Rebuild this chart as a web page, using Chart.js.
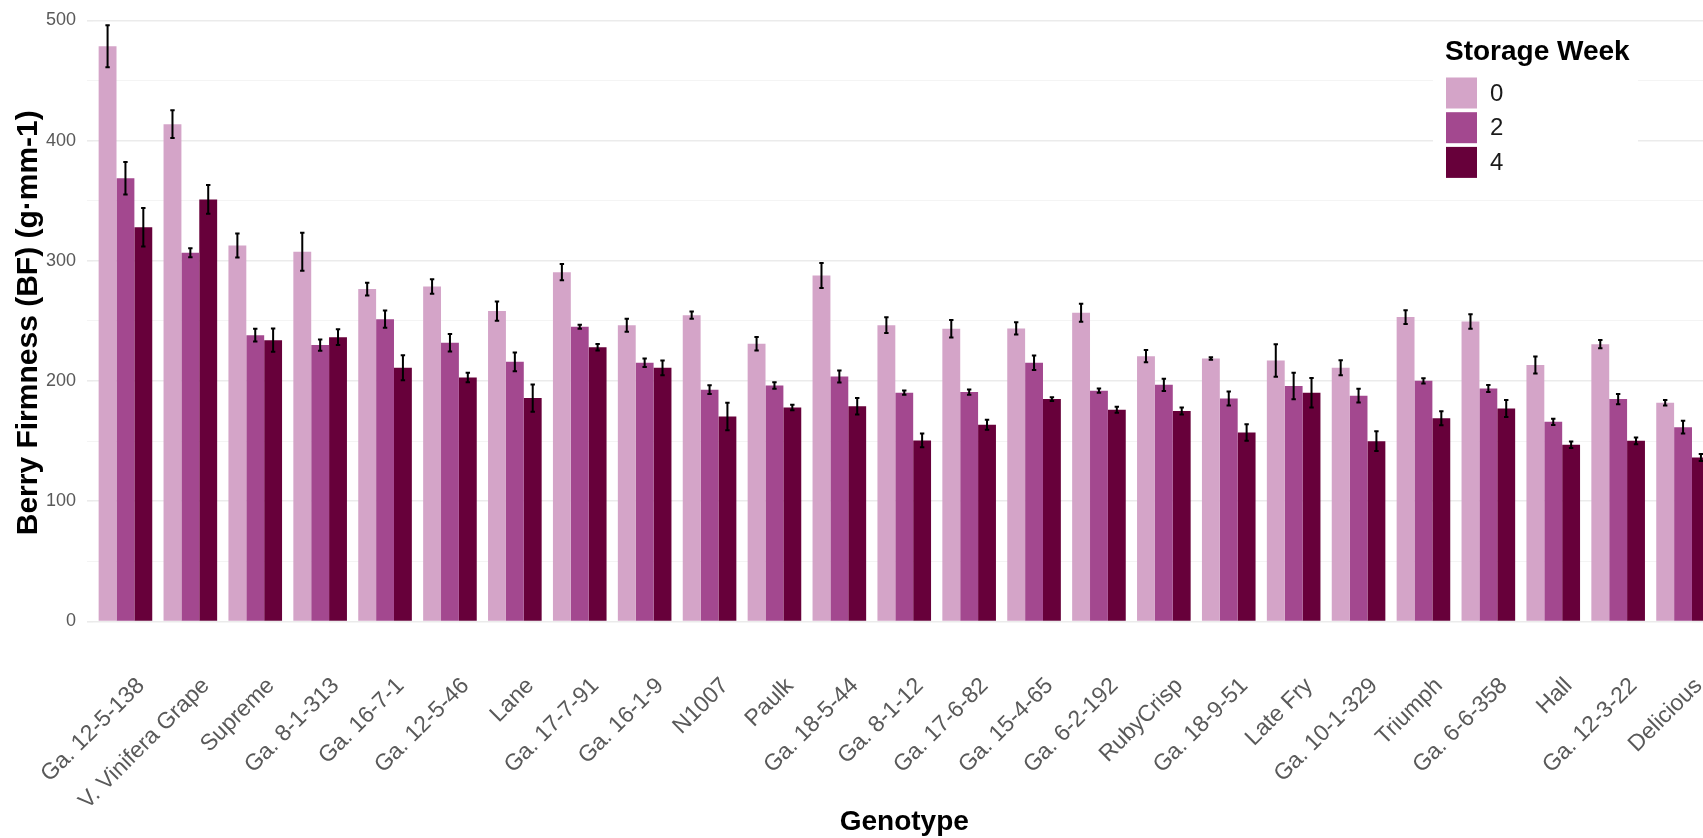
<!DOCTYPE html>
<html>
<head>
<meta charset="utf-8">
<title>Berry Firmness by Genotype and Storage Week</title>
<script src="https://cdn.jsdelivr.net/npm/chart.js@4.4.1/dist/chart.umd.min.js"></script>
<style>
  html, body { margin: 0; padding: 0; background: #ffffff; overflow: hidden; }
  #wrap { position: relative; width: 1703px; height: 838px; overflow: hidden; background: #ffffff; }
  #chart { position: absolute; left: 0; top: -30px; width: 1720px; height: 868px; }
</style>
</head>
<body>
<div id="wrap"><canvas id="chart" width="1720" height="868"></canvas></div>
<script>
// Genotypes on the x axis
const genotypes = ['Ga. 12-5-138', 'V. Vinifera Grape', 'Supreme', 'Ga. 8-1-313', 'Ga. 16-7-1',
  'Ga. 12-5-46', 'Lane', 'Ga. 17-7-91', 'Ga. 16-1-9', 'N1007', 'Paulk', 'Ga. 18-5-44',
  'Ga. 8-1-12', 'Ga. 17-6-82', 'Ga. 15-4-65', 'Ga. 6-2-192', 'RubyCrisp', 'Ga. 18-9-51',
  'Late Fry', 'Ga. 10-1-329', 'Triumph', 'Ga. 6-6-358', 'Hall', 'Ga. 12-3-22', 'Delicious'];

// Storage weeks (legend entries)
const weeks = ['0', '2', '4'];
const legendTitle = 'Storage Week';

// Mean berry firmness (g·mm-1) per storage week
const week0 = [478.6, 413.7, 312.8, 307.6, 276.5, 278.7, 258.2, 290.6, 246.5, 254.8, 231.0, 287.9,
  246.5, 243.5, 243.8, 256.8, 220.7, 218.8, 217.1, 211.0, 253.2, 249.6, 213.3, 230.7, 182.0];
const week2 = [368.8, 306.7, 238.2, 229.9, 251.5, 231.9, 216.0, 245.2, 215.2, 192.8, 196.3, 203.8,
  190.3, 190.8, 215.2, 192.0, 196.9, 185.5, 195.8, 187.8, 200.2, 193.8, 166.1, 185.0, 161.6];
const week4 = [328.0, 351.1, 234.0, 236.5, 211.0, 203.0, 185.8, 228.2, 211.0, 170.5, 178.0, 179.1,
  150.6, 163.6, 185.0, 176.1, 175.0, 157.2, 190.3, 150.0, 169.1, 177.2, 147.0, 150.3, 136.4];

// Standard errors (half-length of each error bar)
const err0 = [17.5, 11.5, 10.0, 15.8, 5.3, 6.0, 8.0, 6.7, 5.4, 3.0, 5.6, 10.4,
  6.5, 7.3, 5.1, 7.5, 5.1, 1.0, 13.6, 6.2, 5.8, 6.0, 7.1, 3.5, 2.3];
const err2 = [13.5, 3.7, 5.3, 4.6, 7.2, 7.3, 7.8, 1.7, 3.6, 3.6, 2.8, 5.0,
  1.8, 2.2, 6.0, 1.7, 5.1, 5.8, 11.0, 5.7, 2.2, 3.0, 2.6, 4.2, 5.3];
const err4 = [16.0, 12.0, 9.7, 6.5, 10.4, 3.9, 11.3, 2.7, 6.1, 11.5, 2.2, 6.9,
  5.7, 4.2, 1.5, 2.5, 2.9, 6.8, 12.3, 8.2, 5.8, 7.1, 2.7, 2.8, 3.0];

// y-axis ticks: labelled major lines and unlabelled minor lines
const yMajor = [0, 100, 200, 300, 400, 500];
const yMinor = [50, 150, 250, 350, 450];

const colors = ['#D4A4C8', '#A3488F', '#67003A'];
const FONT = '"Liberation Sans", Arial, Helvetica, sans-serif';

// Vertical error bars with small caps, drawn over the bars
const errorBars = {
  id: 'errorBars',
  afterDatasetsDraw(chart) {
    const ctx = chart.ctx;
    const y = chart.scales.y;
    ctx.save();
    ctx.strokeStyle = '#000000';
    ctx.lineWidth = 2;
    chart.data.datasets.forEach((ds, i) => {
      const meta = chart.getDatasetMeta(i);
      meta.data.forEach((bar, j) => {
        const v = ds.data[j], e = ds.errors[j];
        const top = y.getPixelForValue(v + e);
        const bot = y.getPixelForValue(v - e);
        const x = bar.x;
        ctx.beginPath();
        ctx.moveTo(x, top); ctx.lineTo(x, bot);
        ctx.moveTo(x - 2.2, top); ctx.lineTo(x + 2.2, top);
        ctx.moveTo(x - 2.2, bot); ctx.lineTo(x + 2.2, bot);
        ctx.stroke();
      });
    });
    ctx.restore();
  }
};

// Legend placed inside the plot panel, top right, on a white box
const insideLegend = {
  id: 'insideLegend',
  afterDraw(chart, args, opts) {
    const ctx = chart.ctx;
    const a = chart.chartArea;
    const left = a.right - opts.fromRight;
    const top = a.top;
    ctx.save();
    ctx.fillStyle = '#ffffff';
    ctx.fillRect(left - 12, top + 34, 205, 160);
    ctx.fillStyle = '#000000';
    ctx.font = 'bold 28px ' + FONT;
    ctx.textBaseline = 'middle';
    ctx.textAlign = 'left';
    ctx.fillText(opts.title, left, top + 58);
    chart.data.datasets.forEach((ds, i) => {
      const sy = top + 83.5 + i * 34.7;
      ctx.fillStyle = ds.backgroundColor;
      ctx.fillRect(left + 1, sy, 31, 31);
      ctx.fillStyle = '#1a1a1a';
      ctx.font = '24px ' + FONT;
      ctx.fillText(ds.label, left + 45, sy + 16.5);
    });
    ctx.restore();
  }
};

new Chart(document.getElementById('chart'), {
  type: 'bar',
  data: {
    labels: genotypes,
    datasets: [
      { label: weeks[0], data: week0, errors: err0, backgroundColor: colors[0] },
      { label: weeks[1], data: week2, errors: err2, backgroundColor: colors[1] },
      { label: weeks[2], data: week4, errors: err4, backgroundColor: colors[2] }
    ]
  },
  options: {
    responsive: false,
    animation: false,
    devicePixelRatio: 1,
    datasets: { bar: { categoryPercentage: 0.826, barPercentage: 1.0, borderWidth: 0 } },
    layout: { padding: { top: 24, right: 4.5, bottom: 0, left: 0 } },
    plugins: {
      legend: { display: false },
      tooltip: { enabled: false },
      insideLegend: { title: legendTitle, fromRight: 270.5 }
    },
    scales: {
      x: {
        grid: { display: false },
        border: { display: false },
        ticks: {
          autoSkip: false,
          minRotation: 45,
          maxRotation: 45,
          labelOffset: 15.5,
          padding: 13,
          color: '#595959',
          font: { family: FONT, size: 23 }
        },
        title: {
          display: true,
          text: 'Genotype',
          color: '#000000',
          font: { family: FONT, size: 28, weight: 'bold', lineHeight: 1.0 },
          padding: { top: 0, bottom: 2 }
        },
        afterFit(scale) { scale.height = 186.5; }
      },
      y: {
        min: -25,
        max: 522,
        border: { display: false },
        grid: {
          drawTicks: true,
          tickLength: 6,
          color: (c) => (c.tick && c.tick.value % 100 === 0) ? '#EBEBEB' : '#F3F3F3',
          lineWidth: (c) => (c.tick && c.tick.value % 100 === 0) ? 1.6 : 0.9
        },
        afterBuildTicks(scale) {
          scale.ticks = yMajor.concat(yMinor).sort((p, q) => p - q).map(v => ({ value: v }));
        },
        ticks: {
          padding: 11,
          color: '#595959',
          font: { family: FONT, size: 18 },
          callback: (v) => yMajor.includes(v) ? String(v) : ''
        },
        title: {
          display: true,
          text: 'Berry Firmness (BF) (g·mm-1)',
          color: '#000000',
          font: { family: FONT, size: 30, weight: 'bold', lineHeight: 1.2 },
          padding: { top: 11, bottom: 0 }
        },
        afterFit(scale) { scale.width = 93; }
      }
    }
  },
  plugins: [errorBars, insideLegend]
});
</script>
</body>
</html>
